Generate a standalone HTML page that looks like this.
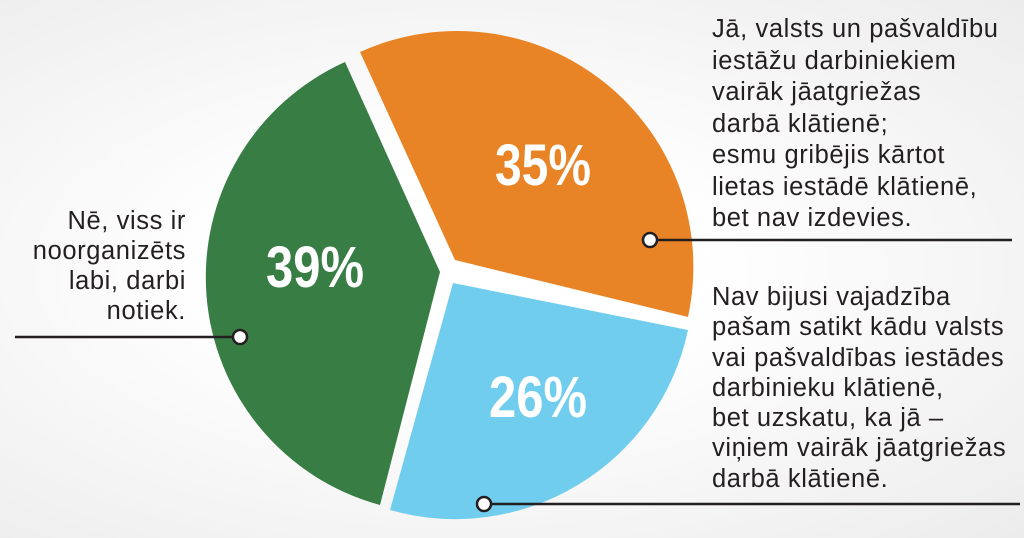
<!DOCTYPE html>
<html><head><meta charset="utf-8"><style>
body{margin:0;width:1024px;height:538px;overflow:hidden;background:radial-gradient(ellipse at 45% 50%,#ffffff 30%,#ececec 100%);font-family:"Liberation Sans",sans-serif}
.t{position:absolute;font-size:25.5px;line-height:31.5px;color:#231f20;letter-spacing:0.6px;white-space:nowrap}
</style></head><body>
<svg width="1024" height="538" style="position:absolute;left:0;top:0">
<path d="M455,260 L360,52 A236,236 0 0 1 688,317 Z" fill="#e88425"/>
<path d="M453,283 L688,330 A238,238 0 0 1 390,510 Z" fill="#71cdee"/>
<path d="M440,272 L345,62 A236,236 0 0 0 380,505 Z" fill="#377d44"/>
<g font-family="Liberation Sans Narrow, Liberation Sans, sans-serif" font-weight="bold" fill="#fff" font-size="58" text-anchor="middle">
<text x="543" y="185" textLength="96" lengthAdjust="spacingAndGlyphs">35%</text>
<text x="315" y="287" textLength="98" lengthAdjust="spacingAndGlyphs">39%</text>
<text x="538" y="417" textLength="98" lengthAdjust="spacingAndGlyphs">26%</text>
</g>
<g stroke="#231f20" stroke-width="2.5" fill="#fff">
<line x1="650" y1="240" x2="1012" y2="240"/>
<line x1="15" y1="337" x2="240" y2="337"/>
<line x1="484" y1="504" x2="1020" y2="504"/>
<circle cx="650" cy="240" r="7"/>
<circle cx="240" cy="337" r="7"/>
<circle cx="484" cy="504" r="7"/>
</g>
</svg>
<div class="t" style="left:712px;top:14px">Jā, valsts un pašvaldību<br>iestāžu darbiniekiem<br>vairāk jāatgriežas<br>darbā klātienē;<br>esmu gribējis kārtot<br>lietas iestādē klātienē,<br>bet nav izdevies.</div>
<div class="t" style="left:0;width:186px;top:206px;text-align:right;line-height:30px">Nē, viss ir<br>noorganizēts<br>labi, darbi<br>notiek.</div>
<div class="t" style="left:712px;top:282px;line-height:30.3px">Nav bijusi vajadzība<br>pašam satikt kādu valsts<br>vai pašvaldības iestādes<br>darbinieku klātienē,<br>bet uzskatu, ka jā –<br>viņiem vairāk jāatgriežas<br>darbā klātienē.</div>
</body></html>
